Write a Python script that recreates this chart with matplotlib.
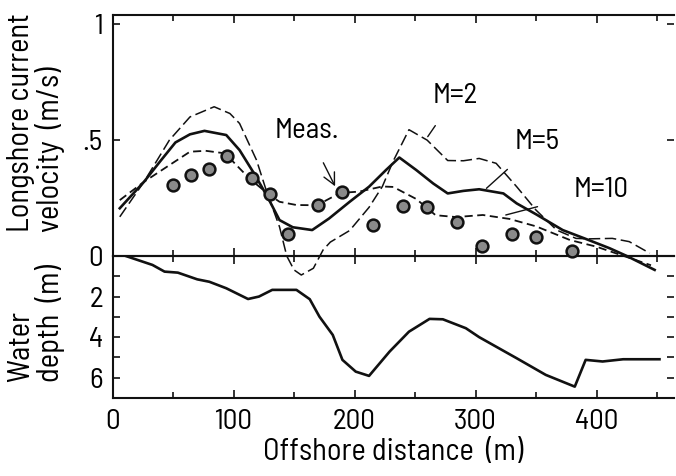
import matplotlib
matplotlib.use("Agg")
import matplotlib.pyplot as plt
from matplotlib import font_manager
from matplotlib.ticker import FixedLocator

# Measured longshore current velocity
x_meas = [50, 65, 80, 95, 115, 130, 145, 170, 190, 215, 240, 260, 285, 305, 330, 350, 380]
v_meas = [0.306, 0.349, 0.375, 0.432, 0.335, 0.266, 0.095, 0.219, 0.277, 0.134,
          0.216, 0.210, 0.145, 0.044, 0.095, 0.081, 0.023]

# Computed velocity, M = 2
x_m2 = [6, 26, 47, 64, 84, 97, 105, 119, 127, 138, 144, 150, 156, 166, 174, 180,
        196, 212, 223, 232, 245, 260, 277, 290, 303, 317, 334, 350, 367, 383, 394,
        413, 427, 444]
v_m2 = [0.169, 0.320, 0.500, 0.600, 0.644, 0.615, 0.572, 0.414, 0.284, 0.126, 0.0,
        -0.060, -0.082, -0.053, 0.026, 0.060, 0.110, 0.210, 0.300, 0.410, 0.545,
        0.500, 0.412, 0.411, 0.421, 0.400, 0.299, 0.198, 0.112, 0.076, 0.074,
        0.076, 0.062, 0.012]

# Computed velocity, M = 5
x_m5 = [6, 26, 39, 52, 64, 76, 94, 105, 117, 128, 138, 149, 165, 179, 196, 212,
        226, 237, 251, 265, 277, 290, 303, 323, 334, 350, 372, 390, 411, 425, 448]
v_m5 = [0.206, 0.320, 0.406, 0.490, 0.525, 0.540, 0.522, 0.457, 0.356, 0.256,
        0.155, 0.124, 0.112, 0.162, 0.234, 0.299, 0.371, 0.425, 0.371, 0.313,
        0.270, 0.281, 0.288, 0.270, 0.227, 0.180, 0.112, 0.076, 0.033, 0.0, -0.060]

# Computed velocity, M = 10
x_m10 = [6, 26, 47, 64, 77, 93, 113, 129, 138, 152, 169, 188, 204, 223, 232, 251,
         267, 284, 306, 328, 350, 378, 400, 445]
v_m10 = [0.241, 0.320, 0.392, 0.450, 0.454, 0.443, 0.335, 0.266, 0.234, 0.220,
         0.219, 0.272, 0.278, 0.300, 0.298, 0.246, 0.176, 0.168, 0.177, 0.160,
         0.128, 0.069, 0.040, -0.040]

# Bottom profile
x_depth = [11, 33, 43, 54, 70, 80, 94, 112, 121, 132, 152, 163, 171, 182, 190,
           201, 212, 229, 245, 262, 273, 292, 303, 317, 334, 358, 382, 391, 405,
           422, 452]
depth = [0.0, 0.44, 0.77, 0.82, 1.15, 1.27, 1.59, 2.12, 2.0, 1.67, 1.67, 2.13,
         2.99, 3.89, 5.12, 5.7, 5.91, 4.71, 3.73, 3.10, 3.12, 3.56, 4.0, 4.47,
         5.04, 5.86, 6.44, 5.12, 5.2, 5.09, 5.09]

# Pick a narrow sans face for the plotter-style lettering
names = {f.name for f in font_manager.fontManager.ttflist}
family = "DejaVu Sans"
for cand in ["Barlow Semi Condensed", "Barlow Condensed", "Roboto Condensed",
             "Archivo Narrow", "Asap Condensed", "Liberation Sans Narrow"]:
    if cand in names:
        family = cand
        break
plt.rcParams["font.family"] = [family, "DejaVu Sans"]
plt.rcParams["font.size"] = 21

W, H = 676, 476
fig = plt.figure(figsize=(W / 100, H / 100), dpi=100)
fig.patch.set_facecolor("white")

left, width = 112.5 / W, 561.5 / W
y_top, y_mid, y_bot = 1 - 15 / H, 1 - 256 / H, 1 - 398 / H
ax1 = fig.add_axes([left, y_mid, width, y_top - y_mid])
ax2 = fig.add_axes([left, y_bot, width, y_mid - y_bot], sharex=ax1)
# velocity curves dip below zero into the depth panel, so draw that panel first
ax1.set_zorder(2)
ax1.patch.set_alpha(0)

ink = "#111111"

# Velocity panel
ax1.plot(x_m2, v_m2, color=ink, lw=1.1, dashes=(7.5, 3), zorder=2, clip_on=False)
ax1.plot(x_m5, v_m5, color=ink, lw=1.9, zorder=2, clip_on=False)
ax1.plot(x_m10, v_m10, color=ink, lw=1.3, dashes=(4.5, 2.5), zorder=2, clip_on=False)
ax1.plot(x_meas, v_meas, "o", ms=8.5, mfc="#8a8a8a", mec=ink, mew=1.8, zorder=4,
         clip_on=False)

ax1.annotate("Meas.", xy=(185, 0.29), xytext=(161, 0.54), ha="center", va="center",
             fontsize=21,
             arrowprops=dict(arrowstyle="->", color=ink, lw=1.0, shrinkA=13, shrinkB=2))
ax1.annotate("M=2", xy=(260.5, 0.515), xytext=(283.5, 0.69), ha="center", va="center",
             fontsize=21,
             arrowprops=dict(arrowstyle="-", color=ink, lw=1.0, shrinkA=12, shrinkB=0))
ax1.annotate("M=5", xy=(309, 0.292), xytext=(351, 0.49), ha="center", va="center",
             fontsize=21,
             arrowprops=dict(arrowstyle="-", color=ink, lw=1.0, shrinkA=12, shrinkB=0))
ax1.annotate("M=10", xy=(325, 0.177), xytext=(404, 0.285), ha="center", va="center",
             fontsize=21,
             arrowprops=dict(arrowstyle="-", color=ink, lw=1.0, shrinkA=25, shrinkB=0))

ax1.set_xlim(0, 464)
ax1.set_ylim(0, 1.04)
ax1.set_yticks([0, 0.5, 1])
ax1.set_yticklabels(["0", ".5", "1"])

# Depth panel
ax2.plot(x_depth, depth, color=ink, lw=1.9)
ax2.set_ylim(7, 0)
ax2.set_yticks([2, 4, 6])
ax2.yaxis.set_minor_locator(FixedLocator([1, 3, 5]))

ax2.set_xticks([0, 100, 200, 300, 400])
ax2.xaxis.set_minor_locator(FixedLocator([50, 150, 250, 350, 450]))
ax2.set_xlabel("Offshore distance  (m)", labelpad=2, fontsize=22)

for ax in (ax1, ax2):
    ax.spines["right"].set_visible(False)
    for s in ("left", "top", "bottom"):
        ax.spines[s].set_linewidth(1.5)
        ax.spines[s].set_color(ink)
    ax.tick_params(which="both", direction="in", top=True, bottom=True,
                   left=True, right=True, width=1.2, color=ink, labelsize=21)
    ax.tick_params(which="major", length=6, pad=7)
    ax.tick_params(which="minor", length=4)
    ax.tick_params(axis="y", which="both", length=5)

ax1.tick_params(labelbottom=False)
ax2.tick_params(axis="x", pad=8)

fig.text(36 / W, 1 - 232 / H, "Longshore current\nvelocity  (m/s)", rotation=90,
         ha="center", va="bottom", multialignment="left", linespacing=1.0, fontsize=22)
fig.text(36 / W, 1 - 382 / H, "Water\ndepth  (m)", rotation=90,
         ha="center", va="bottom", multialignment="left", linespacing=1.0, fontsize=22)

fig.savefig("out.png", dpi=100, facecolor="white")
